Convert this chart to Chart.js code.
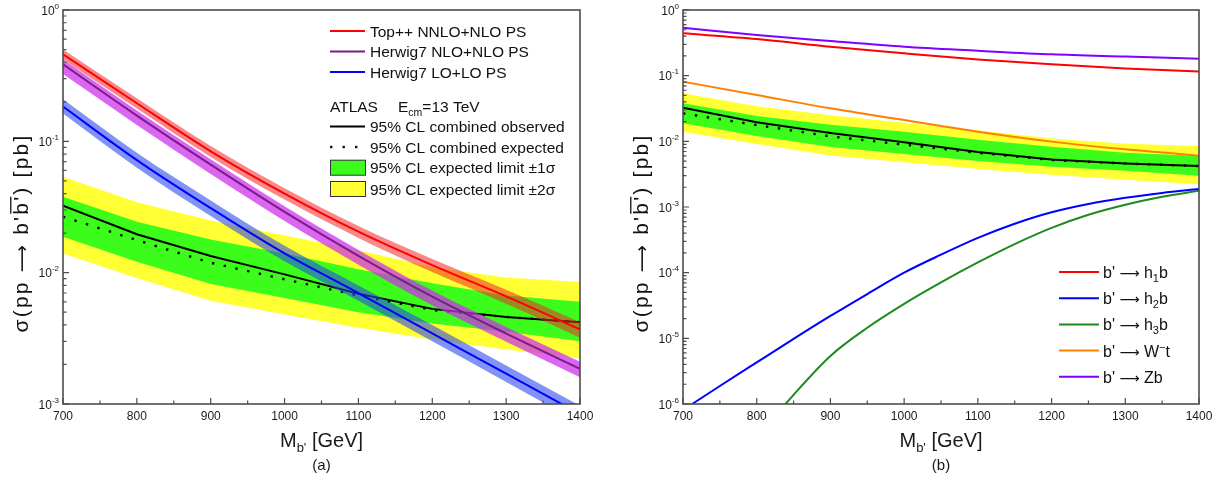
<!DOCTYPE html>
<html>
<head>
<meta charset="utf-8">
<title>b' pair production limits</title>
<script src="https://cdn.jsdelivr.net/npm/chart.js@4.4.1/dist/chart.umd.min.js"></script>
<style>
  body { margin: 0; background: #fff; }
  #page { position: relative; width: 1223px; height: 485px; overflow: hidden; }
  canvas { position: absolute; top: 0; }
  #chartA { left: 0; }
  #chartB { left: 612px; }
</style>
</head>
<body>
<div id="page">
  <canvas id="chartA" width="612" height="485"></canvas>
  <canvas id="chartB" width="611" height="485"></canvas>
</div>
<script>
const FONT = '"Liberation Sans", Arial, Helvetica, sans-serif';
const ARROW_FONT = '"DejaVu Sans", sans-serif';
const ARROW = '\u27f6';

// mass points [GeV]
const masses = [700, 800, 900, 1000, 1100, 1200, 1300, 1400];
const massesFine = [700, 750, 800, 850, 900, 950, 1000, 1050, 1100, 1150, 1200, 1250, 1300, 1350, 1400];

// ATLAS 95% CL limits [pb]
const obsLimit = [0.0324, 0.0196, 0.0134, 0.0097, 0.0069, 0.0053, 0.0046, 0.0042];
const expLimit = [0.0267, 0.0177, 0.0119, 0.0089, 0.0067, 0.0052, 0.0046, 0.0042];
const oneSigUp = [0.0379, 0.0244, 0.0179, 0.0140, 0.0106, 0.0083, 0.0067, 0.0060];
const oneSigDn = [0.0188, 0.0121, 0.0082, 0.0064, 0.0050, 0.0041, 0.00355, 0.0030];
const twoSigUp = [0.0538, 0.0343, 0.0250, 0.0192, 0.0148, 0.0110, 0.0092, 0.0085];
const twoSigDn = [0.0140, 0.0091, 0.0061, 0.0048, 0.0038, 0.0031, 0.0026, 0.00223];

// panel (a): theory cross sections with bands
const topNNLO   = [0.46, 0.195, 0.084, 0.040, 0.0205, 0.0114, 0.0066, 0.0037];
const topNNLOUp = [0.50, 0.213, 0.092, 0.044, 0.0227, 0.0127, 0.0074, 0.0042];
const topNNLODn = [0.42, 0.178, 0.076, 0.036, 0.0184, 0.0101, 0.0058, 0.0032];
const hwNLO   = [0.386, 0.157, 0.0664, 0.029, 0.0134, 0.00656, 0.00344, 0.00185];
const hwNLOUp = [0.42, 0.172, 0.0729, 0.0320, 0.0149, 0.0073, 0.00386, 0.0021];
const hwNLODn = [0.325, 0.133, 0.0563, 0.0247, 0.0115, 0.00566, 0.00298, 0.0016];
const hwLO   = [0.184, 0.072, 0.031, 0.014, 0.0070, 0.00345, 0.0017, 0.00084];
const hwLOUp = [0.209, 0.082, 0.0355, 0.016, 0.0080, 0.0040, 0.00196, 0.00097];
const hwLODn = [0.163, 0.063, 0.027, 0.0122, 0.0061, 0.0030, 0.00147, 0.00072];

// panel (b): decay channels
const xsH1b = [0.441, 0.362, 0.276, 0.219, 0.177, 0.149, 0.129, 0.116];
const xsWt  = [0.081, 0.0508, 0.0318, 0.0211, 0.0140, 0.0099, 0.00755, 0.00605];
const xsZb  = [0.538, 0.416, 0.337, 0.276, 0.240, 0.211, 0.195, 0.181];
// read on the finer mass grid (strongly curved)
const xsH2b = [8.1e-7, 1.88e-6, 4.3e-6, 9.8e-6, 2.19e-5, 4.73e-5, 1.0e-4, 1.88e-4, 3.39e-4,
               5.56e-4, 8.3e-4, 1.11e-3, 1.38e-3, 1.64e-3, 1.88e-3];
const xsH3b = [1e-8, 5.6e-8, 3.0e-7, 1.38e-6, 5.4e-6, 1.45e-5, 3.35e-5, 7.1e-5, 1.43e-4,
               2.72e-4, 4.8e-4, 7.6e-4, 1.08e-3, 1.43e-3, 1.77e-3];

// axes
const xMajor = [700, 800, 900, 1000, 1100, 1200, 1300, 1400];
const xMinor = [750, 850, 950, 1050, 1150, 1250, 1350];
const yExpA = [0, -1, -2, -3];
const yExpB = [0, -1, -2, -3, -4, -5, -6];

const labelsA = ['Top++ NNLO+NLO PS', 'Herwig7 NLO+NLO PS', 'Herwig7 LO+LO PS'];
const limitLabels = ['95% CL combined observed', '95% CL combined expected',
                     '95% CL expected limit \u00b11\u03c3', '95% CL expected limit \u00b12\u03c3'];

const C = {
  green: '#3cfc1c', yellow: '#ffff33',
  red: '#ff0000', redBand: 'rgba(240,40,40,0.55)',
  purple: '#7a1c8c', purpleBand: 'rgba(205,45,235,0.72)',
  blue: '#0000ff', blueBand: 'rgba(40,70,235,0.58)',
  green3: '#1c8a1c', orange: '#ff8000', violet: '#8000ff'
};

const pts = (arr, xs) => (xs || masses).map((m, i) => ({ x: m, y: arr[i] }));

function line(arr, color, width, order, smooth, extra) {
  return Object.assign({
    data: pts(arr, extra && extra.xs), borderColor: color, borderWidth: width, pointRadius: 0,
    fill: false, order: order, tension: 0,
    cubicInterpolationMode: smooth ? 'monotone' : 'default'
  }, extra || {});
}

// lower edge (invisible) + upper edge filled down to it
function band(up, dn, color, order, smooth) {
  return [
    line(dn, 'rgba(0,0,0,0)', 1, order, smooth),
    line(up, 'rgba(0,0,0,0)', 1, order, smooth, { fill: '-1', backgroundColor: color })
  ];
}

function limitSets() {
  return [
    ...band(twoSigUp, twoSigDn, C.yellow, 100, false),
    ...band(oneSigUp, oneSigDn, C.green, 90, false),
    line(expLimit, '#000', 2.4, 80, false, { borderDash: [2.4, 9.6] }),
    line(obsLimit, '#000', 2, 70, false)
  ];
}

// parts: [text, size, dy, family, overline]
function rich(ctx, parts, x, y, align) {
  const fontOf = p => p[1] + 'px ' + (p[3] || FONT);
  const ws = parts.map(p => { ctx.font = fontOf(p); return ctx.measureText(p[0]).width; });
  const w = ws.reduce((s, v) => s + v, 0);
  let cx = align === 'center' ? x - w / 2 : align === 'right' ? x - w : x;
  parts.forEach((p, i) => {
    ctx.font = fontOf(p);
    ctx.fillText(p[0], cx, y + (p[2] || 0));
    if (p[4]) {
      ctx.lineWidth = 1.3;
      ctx.beginPath();
      ctx.moveTo(cx + 1, y - p[1] * 0.82);
      ctx.lineTo(cx + ws[i] - 2, y - p[1] * 0.82);
      ctx.stroke();
    }
    cx += ws[i];
  });
  return w;
}

function yTitle(ctx, cx, cy) {
  ctx.save();
  ctx.translate(cx, cy);
  ctx.rotate(-Math.PI / 2);
  ctx.letterSpacing = '2.2px';
  rich(ctx, [['\u03c3(pp ', 21], [ARROW, 19, 0, ARROW_FONT], [" b'", 21],
             ["b'", 21, 0, null, true], [') [pb]', 21]], 0, 7, 'center');
  ctx.restore();
}

function legendA(ctx, a) {
  const L = a.right - 250, T = L + 40;
  const rows = [31, 51.5, 72, 106.5, 126.5, 147, 167.7, 189];
  const cols = [C.red, C.purple, C.blue];
  labelsA.forEach((t, i) => {
    ctx.strokeStyle = cols[i]; ctx.lineWidth = 2;
    ctx.beginPath(); ctx.moveTo(L, rows[i]); ctx.lineTo(L + 35, rows[i]); ctx.stroke();
    ctx.font = '15.5px ' + FONT;
    ctx.fillText(t, T, rows[i] + 5.5);
  });
  ctx.font = '15.5px ' + FONT;
  ctx.fillText('ATLAS', L, rows[3] + 5.5);
  rich(ctx, [['E', 15.5], ['cm', 10.5, 4], ['=13 TeV', 15.5]], L + 68, rows[3] + 5.5, 'left');
  // observed
  ctx.strokeStyle = '#000'; ctx.lineWidth = 2;
  ctx.beginPath(); ctx.moveTo(L, rows[4]); ctx.lineTo(L + 35, rows[4]); ctx.stroke();
  // expected
  [0, 12.5, 25].forEach(d => ctx.fillRect(L + d, rows[5] - 1.2, 2.4, 2.4));
  // bands
  [[rows[6], C.green], [rows[7], C.yellow]].forEach(([ry, col]) => {
    ctx.fillStyle = col; ctx.fillRect(L, ry - 7.5, 35, 15);
    ctx.strokeStyle = '#333'; ctx.lineWidth = 1; ctx.strokeRect(L + 0.5, ry - 7.5, 35, 15);
  });
  ctx.fillStyle = '#111';
  limitLabels.forEach((t, i) => {
    ctx.font = '15.5px ' + FONT;
    ctx.fillText(t, T, rows[4 + i] + 5.5);
  });
}

function legendB(ctx, a) {
  const L = a.right - 140, T = L + 44;
  const pre = ["b' ", 16], ar = [ARROW, 14, 0, ARROW_FONT];
  const items = [
    [C.red, [pre, ar, [' h', 16], ['1', 11, 4], ['b', 16]]],
    [C.blue, [pre, ar, [' h', 16], ['2', 11, 4], ['b', 16]]],
    [C.green3, [pre, ar, [' h', 16], ['3', 11, 4], ['b', 16]]],
    [C.orange, [pre, ar, [' W', 16], ['\u2212', 11, -6], ['t', 16]]],
    [C.violet, [pre, ar, [' Zb', 16]]]
  ];
  items.forEach(([col, parts], i) => {
    const y = 272 + 26.2 * i;
    ctx.strokeStyle = col; ctx.lineWidth = 2;
    ctx.beginPath(); ctx.moveTo(L, y); ctx.lineTo(L + 40, y); ctx.stroke();
    rich(ctx, parts, T, y + 6, 'left');
  });
}

function decorPlugin(spec) {
  return {
    id: 'decor',
    afterDraw(chart) {
      const { ctx, chartArea: a } = chart;
      const xs = chart.scales.x, ys = chart.scales.y;
      ctx.save();
      ctx.fillStyle = '#111';
      ctx.strokeStyle = '#4d4d4d';
      ctx.textBaseline = 'alphabetic';
      // ticks on bottom axis
      ctx.lineWidth = 1.2;
      ctx.beginPath();
      xMajor.forEach(v => { const p = xs.getPixelForValue(v); ctx.moveTo(p, a.bottom); ctx.lineTo(p, a.bottom - 6); });
      xMinor.forEach(v => { const p = xs.getPixelForValue(v); ctx.moveTo(p, a.bottom); ctx.lineTo(p, a.bottom - 3.5); });
      // ticks on left axis
      const lo = Math.min(...spec.yExp), hi = Math.max(...spec.yExp);
      for (let k = lo; k <= hi; k++) {
        const p = ys.getPixelForValue(Math.pow(10, k));
        ctx.moveTo(a.left, p); ctx.lineTo(a.left + 6, p);
        if (k < hi) {
          for (let m = 2; m <= 9; m++) {
            const q = ys.getPixelForValue(m * Math.pow(10, k));
            ctx.moveTo(a.left, q); ctx.lineTo(a.left + 3.5, q);
          }
        }
      }
      ctx.stroke();
      // frame
      ctx.lineWidth = 1.6;
      ctx.strokeRect(a.left, a.top, a.right - a.left, a.bottom - a.top);
      // tick labels
      ctx.fillStyle = '#1a1a1a';
      ctx.font = '12px ' + FONT;
      ctx.textAlign = 'center';
      xMajor.forEach(v => ctx.fillText(String(v), xs.getPixelForValue(v), a.bottom + 16));
      ctx.textAlign = 'left';
      spec.yExp.forEach(k => {
        rich(ctx, [['10', 12], [String(k), 8, -6]], a.left - 4, ys.getPixelForValue(Math.pow(10, k)) + 4.5, 'right');
      });
      // axis titles
      const mid = (a.left + a.right) / 2;
      rich(ctx, [['M', 20], ["b'", 13, 5], [' [GeV]', 20]], mid, 447, 'center');
      ctx.font = '15px ' + FONT;
      ctx.textAlign = 'center';
      ctx.fillText(spec.panel, mid, 470);
      ctx.textAlign = 'left';
      ctx.fillStyle = '#111'; ctx.strokeStyle = '#111';
      yTitle(ctx, a.left - 42, 233);
      spec.legend(ctx, a);
      ctx.restore();
    }
  };
}

function makeChart(id, datasets, yMin, pad, spec) {
  return new Chart(document.getElementById(id), {
    type: 'line',
    data: { datasets: datasets },
    options: {
      responsive: false, animation: false, devicePixelRatio: 1,
      layout: { padding: pad },
      plugins: { legend: { display: false }, tooltip: { enabled: false } },
      scales: {
        x: { type: 'linear', min: 700, max: 1400, display: false },
        y: { type: 'logarithmic', min: yMin, max: 1, display: false }
      }
    },
    plugins: [decorPlugin(spec)]
  });
}

const setsA = [
  ...limitSets(),
  ...band(hwLOUp, hwLODn, C.blueBand, 60, true),
  line(hwLO, C.blue, 2, 55, true),
  ...band(hwNLOUp, hwNLODn, C.purpleBand, 50, true),
  line(hwNLO, C.purple, 2, 45, true),
  ...band(topNNLOUp, topNNLODn, C.redBand, 40, true),
  line(topNNLO, C.red, 2, 35, true)
];

const setsB = [
  ...limitSets(),
  line(xsWt, C.orange, 2, 40, true),
  line(xsH3b, C.green3, 2, 38, true, { xs: massesFine }),
  line(xsH2b, C.blue, 2, 36, true, { xs: massesFine }),
  line(xsH1b, C.red, 2, 34, true),
  line(xsZb, C.violet, 2, 32, true)
];

makeChart('chartA', setsA, 1e-3, { left: 63, right: 32, top: 10, bottom: 81 },
  { yExp: yExpA, panel: '(a)', legend: legendA });
makeChart('chartB', setsB, 1e-6, { left: 71, right: 24, top: 10, bottom: 81 },
  { yExp: yExpB, panel: '(b)', legend: legendB });
</script>
</body>
</html>
